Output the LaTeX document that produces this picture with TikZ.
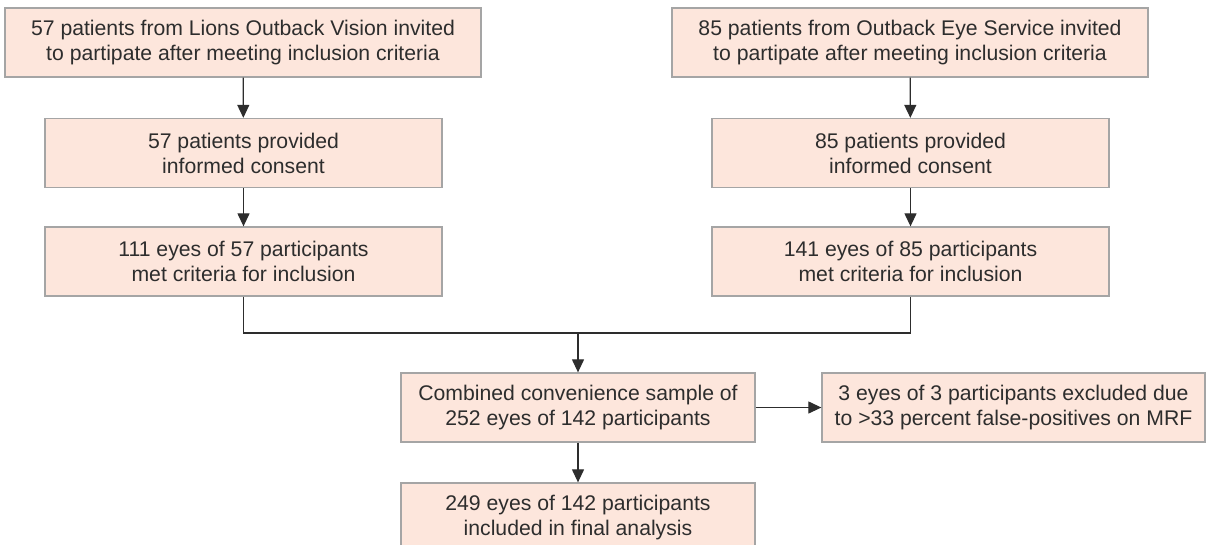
\documentclass[tikz,border=0pt]{standalone}
\usepackage{fontspec}
\setmainfont{Liberation Sans}
\usepackage{tikz}
\usetikzlibrary{arrows.meta,positioning}
\definecolor{boxfill}{RGB}{253,230,220}
\definecolor{boxline}{RGB}{165,165,165}
\definecolor{inkgray}{RGB}{45,45,45}

\begin{document}
\begin{tikzpicture}[x=1pt, y=-1pt,
    every node/.style = {shape=rectangle, draw=boxline, fill=boxfill,
      line width=1.3pt, align=center, inner sep=0pt, minimum height=69pt,
      text=inkgray, font=\fontsize{21.2}{25}\selectfont},
    wide/.style = {minimum width=476pt},
    mid/.style = {minimum width=397pt},
    flow/.style = {draw=inkgray, line width=1.2pt,
      -{Triangle[width=12pt,length=13pt]}}]
  \useasboundingbox (0,0) rectangle (1209,544);
  % left column
  \node[wide] (lov1) at (243,42.5) {57 patients from Lions Outback Vision invited\\to partipate after meeting inclusion criteria};
  \node[mid] (lov2) at (243.5,153) {57 patients provided\\informed consent};
  \node[mid] (lov3) at (243.5,261.5) {111 eyes of 57 participants\\met criteria for inclusion};
  % right column
  \node[wide] (oes1) at (910,42.5) {85 patients from Outback Eye Service invited\\to partipate after meeting inclusion criteria};
  \node[mid] (oes2) at (910.5,153) {85 patients provided\\informed consent};
  \node[mid] (oes3) at (910.5,261.5) {141 eyes of 85 participants\\met criteria for inclusion};
  % combined
  \node[minimum width=354pt] (comb) at (578,407.5) {Combined convenience sample of\\252 eyes of 142 participants};
  \node[minimum width=383pt] (excl) at (1013.5,407.5) {3 eyes of 3 participants excluded due\\to >33 percent false-positives on MRF};
  \node[minimum width=354pt] (final) at (578,517.5) {249 eyes of 142 participants\\included in final analysis};
  \coordinate (join) at (578,333);

  \draw[flow] (lov1) -- (lov2);
  \draw[flow] (lov2) -- (lov3);
  \draw[flow] (oes1) -- (oes2);
  \draw[flow] (oes2) -- (oes3);
  \draw[draw=inkgray, line width=1.2pt] (lov3) |- (join) -| (oes3);
  \draw[flow] (join) -- (comb);
  \draw[flow] (comb) -- (excl);
  \draw[flow] (comb) -- (final);
\end{tikzpicture}
\end{document}
